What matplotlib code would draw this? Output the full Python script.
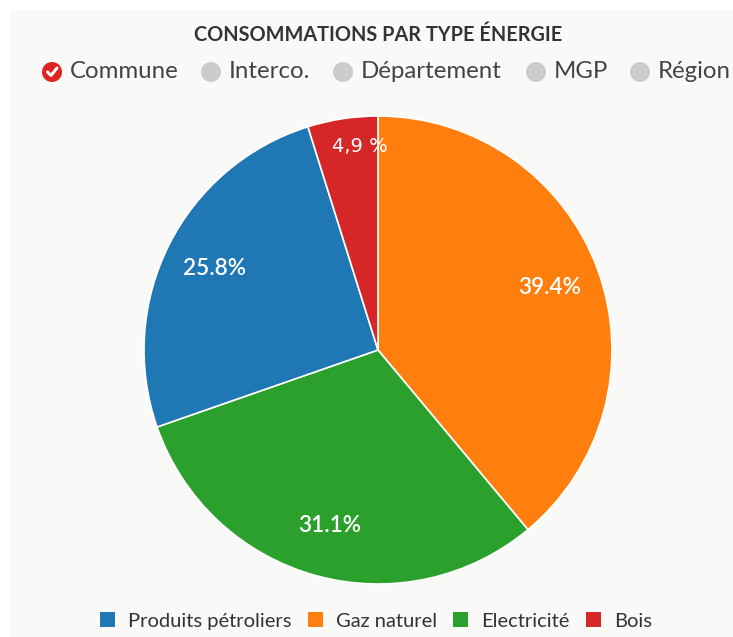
import matplotlib
matplotlib.use("Agg")
from matplotlib import pyplot as plt
from matplotlib.patches import Circle, Rectangle, Patch
import numpy as np

plt.rcParams['font.family'] = ['Lato', 'DejaVu Sans']

# parts de consommation par type d'énergie (ordre horaire depuis midi)
energies = ['Gaz naturel', 'Electricité', 'Produits pétroliers', 'Bois']
parts = [39.4, 31.1, 25.8, 4.9]
etiquettes = ['39.4%', '31.1%', '25.8%', '4,9 %']
couleurs = ['#ff7f0e', '#2ca02c', '#1f77b4', '#d62728']
ordre_legende = ['Produits pétroliers', 'Gaz naturel', 'Electricité', 'Bois']
echelons = ['Commune', 'Interco.', 'Département', 'MGP', 'Région']
echelon_actif = 'Commune'

W, H = 733, 637
fig = plt.figure(figsize=(W / 100, H / 100), dpi=100)
fig.patch.set_facecolor('white')

# fond du panneau
fond = fig.add_axes([0, 0, 1, 1])
fond.set_xlim(0, W)
fond.set_ylim(H, 0)
fond.axis('off')
fond.add_patch(Rectangle((10, 10), W - 10, H - 10, facecolor='#f9f9f8', edgecolor='none'))

fond.text(378, 35, 'CONSOMMATIONS PAR TYPE ÉNERGIE', ha='center', va='center',
          fontsize=14.3, fontweight='bold', color='#333333')

# boutons radio
pos_x = [52, 211, 343, 536, 640]
for x, nom in zip(pos_x, echelons):
    if nom == echelon_actif:
        fond.add_patch(Circle((x, 72), 10, facecolor='#e0231f', edgecolor='none'))
        fond.plot([x - 4.5, x - 1, x + 5], [72, 75.5, 68], color='white', lw=2.2,
                  solid_capstyle='round')
    else:
        fond.add_patch(Circle((x, 72), 10, facecolor='#cccccc', edgecolor='none'))
    fond.text(x + 18, 72, nom, ha='left', va='center', fontsize=17.3, color='#444444')

# camembert
cx, cy, r = 378, 350, 234
ax = fig.add_axes([(cx - r) / W, 1 - (cy + r) / H, 2 * r / W, 2 * r / H])
wedges, _ = ax.pie(parts, colors=couleurs, startangle=90, counterclock=False,
                   wedgeprops=dict(edgecolor='white', linewidth=1.2))
ax.set_xlim(-1, 1)
ax.set_ylim(-1, 1)
ax.set_aspect('auto')

for w, lab in zip(wedges, etiquettes):
    if lab == '4,9 %':
        ax.text(-0.077, 0.87, lab, ha='center', va='center', fontsize=14,
                color='white', family=['DejaVu Sans'])
        continue
    ang = np.deg2rad((w.theta1 + w.theta2) / 2)
    ax.text(0.78 * np.cos(ang), 0.78 * np.sin(ang), lab, ha='center', va='center',
            fontsize=16.3, color='white', fontweight='semibold')

# légende
handles = [Patch(facecolor=couleurs[energies.index(n)], edgecolor='none') for n in ordre_legende]
fig.legend(handles, ordre_legende, loc='center', bbox_to_anchor=(376 / W, 1 - 621 / H),
           ncol=4, frameon=False, fontsize=14.5, handlelength=0.75, handleheight=0.75,
           handletextpad=0.65, columnspacing=0.8, labelcolor='#333333')

fig.savefig('out.png', dpi=100)
